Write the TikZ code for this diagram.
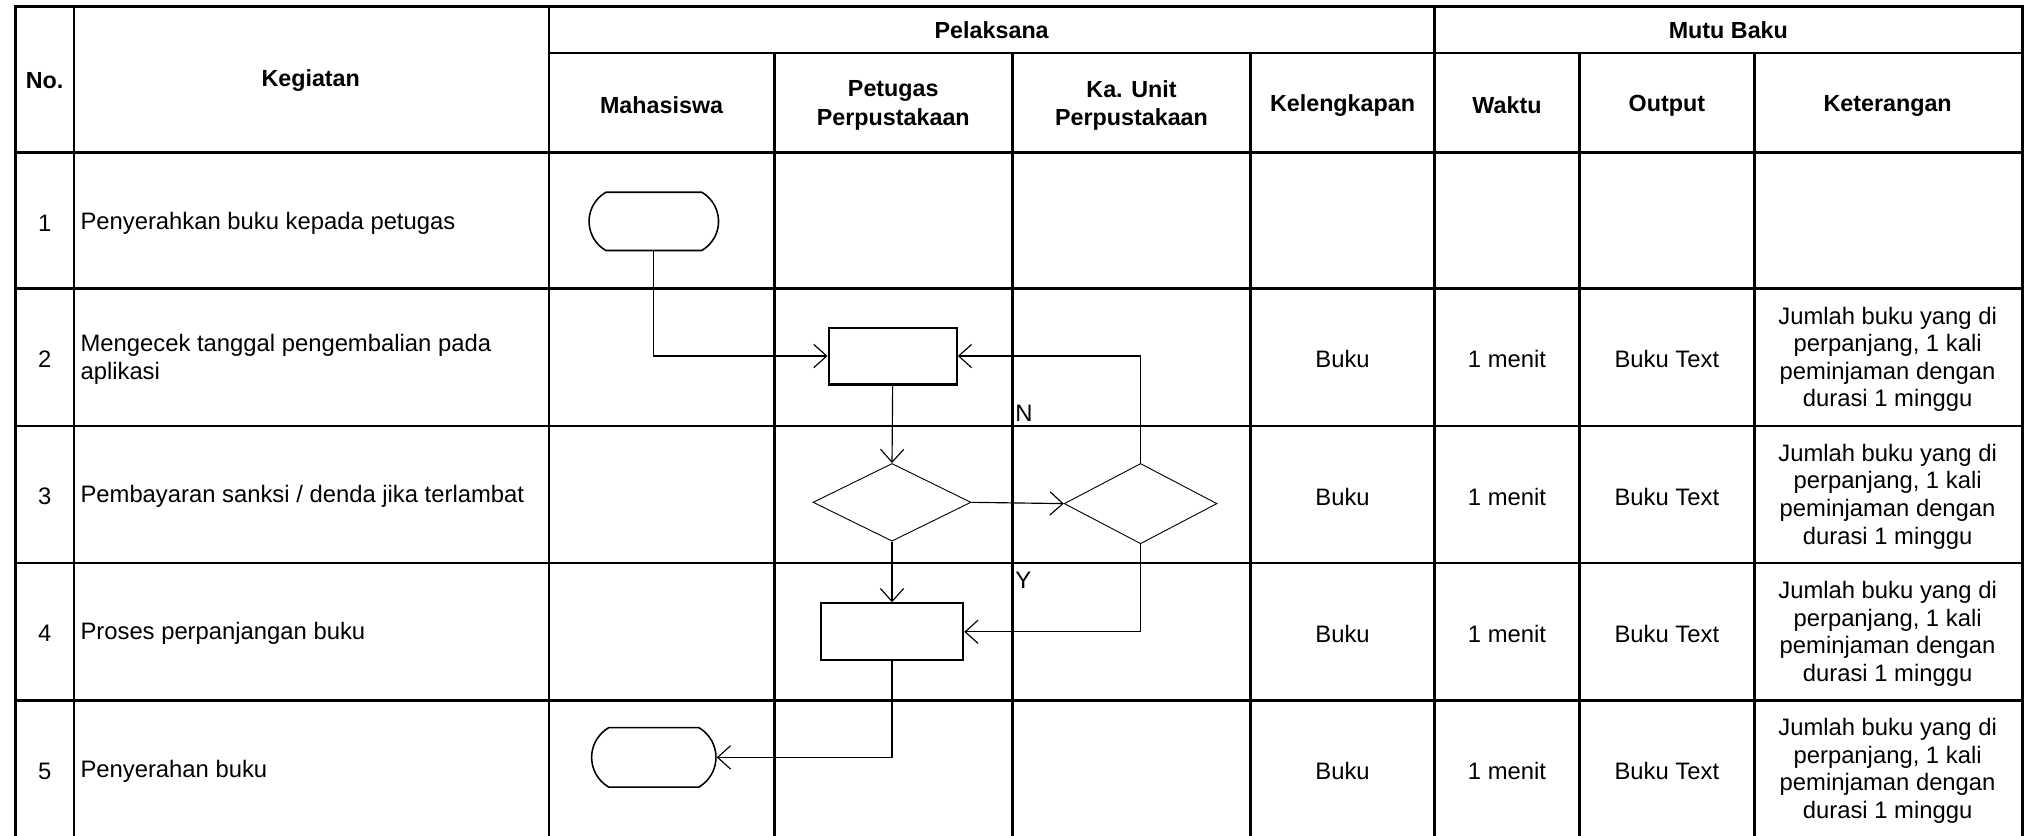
\documentclass[tikz,border=0pt]{standalone}
\usepackage{fontspec}
\setmainfont{Liberation Sans}
\usetikzlibrary{shapes.geometric,shapes.misc,arrows.meta}

\tikzset{
  tbl/.style={line width=2pt},
  flow/.style={line width=0.9pt,-{Straight Barb[length=10pt,width=18pt,line width=0.9pt]}},
  term/.style={draw,line width=1.2pt,rounded rectangle,rounded rectangle arc length=120,minimum width=100pt,minimum height=45pt,inner sep=0pt},
  proc/.style={draw,line width=1.6pt,minimum height=44pt,inner sep=0pt},
  decide/.style={draw,line width=0.7pt,diamond,aspect=2,inner sep=0pt},
  hdr/.style={font=\fontsize{18}{22}\selectfont\bfseries,align=center,inner sep=0pt,yshift=-1.5pt},
  cell/.style={font=\fontsize{18.4}{21.3}\selectfont,align=center,inner sep=0pt,yshift=-1.5pt},
}

\begin{document}
\begin{tikzpicture}[x=1pt,y=1pt,yscale=-1,xscale=1]
\useasboundingbox (0,0) rectangle (1568,645);

%Straight Lines [outer frame]
\draw[tbl] (12,650) -- (12,5) -- (1562,5) -- (1562,650) ;
%Straight Lines [columns]
\draw[tbl] (57,5) -- (57,650) ;
\draw[tbl] (424,5) -- (424,650) ;
\draw[tbl] (1108,5) -- (1108,650) ;
\draw[tbl] (598,41) -- (598,650) ;
\draw[tbl] (782,41) -- (782,650) ;
\draw[tbl] (966,41) -- (966,650) ;
\draw[tbl] (1220,41) -- (1220,650) ;
\draw[tbl] (1355,41) -- (1355,650) ;
%Straight Lines [rows]
\draw[tbl] (424,41) -- (1562,41) ;
\draw[tbl] (12,118) -- (1562,118) ;
\draw[tbl] (12,223) -- (1562,223) ;
\draw[tbl] (12,329) -- (1562,329) ;
\draw[tbl] (12,435) -- (1562,435) ;
\draw[tbl] (12,541) -- (1562,541) ;

% Header Nodes
\node[hdr] (hno) at (34.5,61) {No.};
\node[hdr] (hkeg) at (240,61) {Kegiatan};
\node[hdr] (hpel) at (766,22) {Pelaksana};
\node[hdr] (hmutu) at (1335,22) {Mutu Baku};
\node[hdr] (hmhs) at (511,80) {Mahasiswa};
\node[hdr] (hpetugas) at (690,80) {Petugas\\Perpustakaan};
\node[hdr] (hkaunit) at (874,80) {Ka. Unit\\Perpustakaan};
\node[hdr] (hleng) at (1037,80) {Kelengkapan};
\node[hdr] (hwaktu) at (1164,80) {Waktu};
\node[hdr] (houtput) at (1287.5,80) {Output};
\node[hdr] (hket) at (1458,80) {Keterangan};

% Text Node [row 1]
\node[cell] (no1) at (34.5,171) {1};
\node[cell,anchor=west] (keg1) at (62,171) {Penyerahkan buku kepada petugas};
% Text Node [row 2]
\node[cell] (no2) at (34.5,276) {2};
\node[cell,anchor=west,align=left,font=\fontsize{18.4}{22}\selectfont] (keg2) at (62,276) {Mengecek tanggal pengembalian pada\\aplikasi};
\node[cell] (leng2) at (1037,276) {Buku};
\node[cell] (waktu2) at (1164,276) {1 menit};
\node[cell] (out2) at (1287.5,276) {Buku Text};
\node[cell] (ket2) at (1458,276) {Jumlah buku yang di\\perpanjang, 1 kali\\peminjaman dengan\\durasi 1 minggu};
% Text Node [row 3]
\node[cell] (no3) at (34.5,382) {3};
\node[cell,anchor=west] (keg3) at (62,382) {Pembayaran sanksi / denda jika terlambat};
\node[cell] (leng3) at (1037,382) {Buku};
\node[cell] (waktu3) at (1164,382) {1 menit};
\node[cell] (out3) at (1287.5,382) {Buku Text};
\node[cell] (ket3) at (1458,382) {Jumlah buku yang di\\perpanjang, 1 kali\\peminjaman dengan\\durasi 1 minggu};
% Text Node [row 4]
\node[cell] (no4) at (34.5,488) {4};
\node[cell,anchor=west] (keg4) at (62,488) {Proses perpanjangan buku};
\node[cell] (leng4) at (1037,488) {Buku};
\node[cell] (waktu4) at (1164,488) {1 menit};
\node[cell] (out4) at (1287.5,488) {Buku Text};
\node[cell] (ket4) at (1458,488) {Jumlah buku yang di\\perpanjang, 1 kali\\peminjaman dengan\\durasi 1 minggu};
% Text Node [row 5]
\node[cell] (no5) at (34.5,594) {5};
\node[cell,anchor=west] (keg5) at (62,594) {Penyerahan buku};
\node[cell] (leng5) at (1037,594) {Buku};
\node[cell] (waktu5) at (1164,594) {1 menit};
\node[cell] (out5) at (1287.5,594) {Buku Text};
\node[cell] (ket5) at (1458,594) {Jumlah buku yang di\\perpanjang, 1 kali\\peminjaman dengan\\durasi 1 minggu};

%Shape: Terminator, Process, Decision
\node[term] (mulai) at (505,171) {};
\node[proc,minimum width=99pt] (cek) at (689.5,275) {};
\node[decide,minimum width=122pt,minimum height=60pt] (bayar) at (689,388) {};
\node[decide,minimum width=118pt,minimum height=62pt] (telat) at (881,389) {};
\node[proc,minimum width=110pt] (panjang) at (689,488) {};
\node[term,minimum width=96pt,minimum height=46pt] (selesai) at (505,585) {};

%Straight Lines [flow]
\draw[flow] (mulai.south) |- (cek.west) ;
\draw[flow] (cek.south) -- (bayar.north) ;
\draw[flow] (bayar.east) -- (telat.west) ;
\draw[flow] (telat.north) |- (cek.east) ;
\draw[flow] (bayar.south) -- (panjang.north) ;
\draw[flow] (telat.south) |- (panjang.east) ;
\draw[flow] (panjang.south) |- (selesai.east) ;

% Text Node [branch labels]
\node[cell,anchor=west] (lbln) at (784,318) {N};
\node[cell,anchor=west] (lbly) at (784,447) {Y};
\end{tikzpicture}
\end{document}
